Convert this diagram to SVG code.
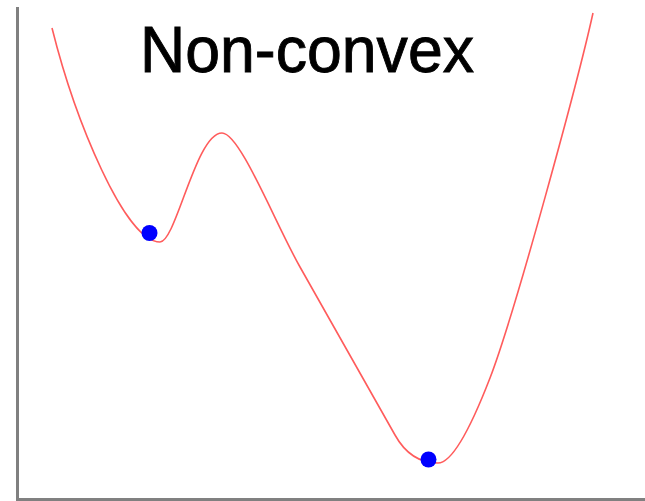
<svg xmlns="http://www.w3.org/2000/svg" width="645" height="501" viewBox="0 0 645 501">
<style>
.axis{stroke:#808080;stroke-width:3;fill:none}
.curve{stroke:#ff5c5c;stroke-width:1.6;fill:none;stroke-linejoin:round}
.pt{fill:#0000ff}
.title{font-family:"Liberation Sans",Arial,sans-serif;font-size:65px;fill:#000;stroke:#000;stroke-width:0.9}
</style>
<rect width="645" height="501" fill="#fff"/>
<g id="axes">
<path class="axis" d="M17.5,7 V499.5 H645"/>
</g>
<g id="curve">
<path class="curve" d="M52,28 C75,120 125,242 160,242 C176,242 196,133 222,133 C240,133 275,223 300,267 L395,435 C405,453 420,463 438,463 C455,463 478,409 490,378 C515,313 578,81 593,13"/>
</g>
<g id="local-min">
<circle class="pt" cx="149.5" cy="233" r="8"/>
</g>
<g id="global-min">
<circle class="pt" cx="428.5" cy="459.5" r="8"/>
</g>
<g id="title">
<text class="title" x="140" y="72" textLength="334" lengthAdjust="spacingAndGlyphs">Non-convex</text>
</g>
</svg>
